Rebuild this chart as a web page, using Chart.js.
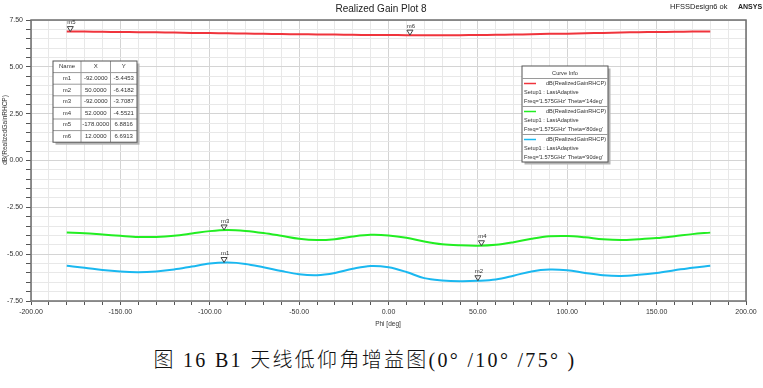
<!DOCTYPE html>
<html>
<head>
<meta charset="utf-8">
<script src="https://cdn.jsdelivr.net/npm/chart.js@4/dist/chart.umd.min.js"></script>
<style>
  html, body { margin: 0; padding: 0; background: #fff; }
  #wrap { position: relative; width: 763px; height: 388px; }
  #caption {
    position: absolute; left: 0; top: 349px; width: 730px; text-align: center;
    font-family: "Liberation Serif", "Noto Sans CJK SC", serif; font-size: 20px; font-weight: 300;
    line-height: 22px; letter-spacing: 2.3px; color: #111;
  }
</style>
</head>
<body>
<div id="wrap">
  <canvas id="chart" width="763" height="335"></canvas>
  <div id="caption">图 16 B1 天线低仰角增益图(0° /10° /75° )</div>
</div>
<script>
// угол Phi, град
const phi = [-180, -170, -160, -150, -140, -130, -120, -110, -100, -90, -80, -70, -60, -50, -40, -30, -20, -10,
  0, 10, 20, 30, 40, 50, 60, 70, 80, 90, 100, 110, 120, 130, 140, 150, 160, 170, 180];

// dB(RealizedGainRHCP), Theta = 14 / 80 / 90 deg
const gain14 = [6.88, 6.88, 6.87, 6.86, 6.85, 6.84, 6.83, 6.81, 6.80, 6.79, 6.78, 6.76, 6.75, 6.74, 6.73, 6.72, 6.71, 6.70,
  6.70, 6.69, 6.69, 6.69, 6.69, 6.70, 6.71, 6.72, 6.74, 6.76, 6.77, 6.79, 6.81, 6.83, 6.85, 6.86, 6.87, 6.88, 6.89];
const gain80 = [-3.85, -3.88, -3.95, -4.02, -4.08, -4.08, -4.02, -3.90, -3.77, -3.71, -3.76, -3.87, -4.02, -4.18, -4.25, -4.20, -4.06, -3.97,
  -4.00, -4.12, -4.32, -4.47, -4.53, -4.55, -4.50, -4.36, -4.18, -4.05, -4.03, -4.10, -4.20, -4.24, -4.20, -4.14, -4.04, -3.93, -3.85];
const gain90 = [-5.62, -5.72, -5.85, -5.93, -5.96, -5.92, -5.82, -5.66, -5.50, -5.45, -5.52, -5.70, -5.90, -6.07, -6.12, -6.00, -5.78, -5.63,
  -5.70, -5.95, -6.28, -6.40, -6.44, -6.42, -6.35, -6.15, -5.92, -5.82, -5.86, -6.00, -6.12, -6.16, -6.10, -6.00, -5.86, -5.72, -5.62];

const thetaLabels = ['14deg', '80deg', '90deg'];
const curveColors = ['#f0343c', '#22ee22', '#1ab8f0'];

// маркеры
const markerNames = ['m1', 'm2', 'm3', 'm4', 'm5', 'm6'];
const markerPhi = [-92, 50, -92, 52, -178, 12];
const markerGain = [-5.4453, -6.4182, -3.7087, -4.5521, 6.8816, 6.6913];

const FONT = '"Liberation Sans", Arial, sans-serif';

const toPoints = (ys) => phi.map((p, i) => ({ x: p, y: ys[i] }));

// рамка, подписи, маркеры, таблица и легенда
const overlay = {
  id: 'overlay',
  afterDraw(chart) {
    const { ctx, chartArea: { left, top, right, bottom }, scales: { x, y } } = chart;
    ctx.save();

    // рамка поля
    ctx.strokeStyle = '#6e6e6e';
    ctx.lineWidth = 1.5;
    ctx.strokeRect(left, top, right - left, bottom - top);

    // заголовки
    ctx.fillStyle = '#222';
    ctx.textBaseline = 'middle';
    ctx.textAlign = 'center';
    ctx.font = `10px ${FONT}`;
    ctx.fillText('Realized Gain Plot 8', 381, 9);
    ctx.textAlign = 'left';
    ctx.font = `7.5px ${FONT}`;
    ctx.fillText('HFSSDesign6 ok', 670, 7);
    ctx.font = `bold 7px ${FONT}`;
    ctx.fillText('ANSYS', 738, 7);

    ctx.font = `6.5px ${FONT}`;
    ctx.textAlign = 'center';
    ctx.fillStyle = '#333';
    ctx.fillText('Phi [deg]', 388, 324);
    ctx.save();
    ctx.translate(5, 130);
    ctx.rotate(-Math.PI / 2);
    ctx.fillText('dB(RealizedGainRHCP)', 0, 0);
    ctx.restore();

    // маркеры на кривых
    ctx.strokeStyle = '#444';
    ctx.lineWidth = 1;
    ctx.font = `6px ${FONT}`;
    markerNames.forEach((name, i) => {
      const px = x.getPixelForValue(markerPhi[i]);
      const py = y.getPixelForValue(markerGain[i]);
      ctx.beginPath();
      ctx.moveTo(px, py);
      ctx.lineTo(px - 3, py - 5);
      ctx.lineTo(px + 3, py - 5);
      ctx.closePath();
      ctx.stroke();
      ctx.fillStyle = '#333';
      ctx.fillText(name, px + 1, py - 9);
    });

    // таблица маркеров
    const tx = 53; const ty = 61;
    const colW = [28, 29.5, 26.5];
    const rowH = 11.6;
    const tw = colW[0] + colW[1] + colW[2];
    const th = rowH * (markerNames.length + 1);
    ctx.fillStyle = '#b4b4b4';
    ctx.fillRect(tx + 2.5, ty + 2.5, tw, th);
    ctx.fillStyle = '#fff';
    ctx.fillRect(tx, ty, tw, th);
    ctx.strokeStyle = '#9a9a9a';
    ctx.lineWidth = 1;
    for (let r = 1; r <= markerNames.length; r += 1) {
      ctx.beginPath();
      ctx.moveTo(tx, ty + r * rowH);
      ctx.lineTo(tx + tw, ty + r * rowH);
      ctx.stroke();
    }
    [colW[0], colW[0] + colW[1]].forEach((cx) => {
      ctx.beginPath();
      ctx.moveTo(tx + cx, ty);
      ctx.lineTo(tx + cx, ty + th);
      ctx.stroke();
    });
    ctx.strokeStyle = '#555';
    ctx.strokeRect(tx, ty, tw, th);
    ctx.fillStyle = '#333';
    ctx.font = `6px ${FONT}`;
    const cellX = [tx + colW[0] / 2, tx + colW[0] + colW[1] / 2, tx + colW[0] + colW[1] + colW[2] / 2];
    ['Name', 'X', 'Y'].forEach((h, c) => ctx.fillText(h, cellX[c], ty + rowH / 2));
    markerNames.forEach((name, i) => {
      const cy = ty + rowH * (i + 1.5);
      ctx.fillText(name, cellX[0], cy);
      ctx.fillText(markerPhi[i].toFixed(4), cellX[1], cy);
      ctx.fillText(markerGain[i].toFixed(4), cellX[2], cy);
    });

    // легенда Curve Info
    const lx = 522; const ly = 66; const lw = 86; const lh = 96;
    ctx.fillStyle = '#b4b4b4';
    ctx.fillRect(lx + 2.5, ly + 2.5, lw, lh);
    ctx.fillStyle = '#fff';
    ctx.fillRect(lx, ly, lw, lh);
    ctx.strokeStyle = '#555';
    ctx.strokeRect(lx, ly, lw, lh);
    ctx.fillStyle = '#333';
    ctx.textAlign = 'center';
    ctx.font = `5.6px ${FONT}`;
    ctx.fillText('Curve Info', lx + lw / 2, ly + 7.5);
    ctx.strokeStyle = '#9a9a9a';
    const blockTop = ly + 12.5;
    const blockH = 28;
    thetaLabels.forEach((theta, i) => {
      const by = blockTop + i * blockH;
      ctx.beginPath();
      ctx.moveTo(lx, by);
      ctx.lineTo(lx + lw, by);
      ctx.stroke();
      ctx.strokeStyle = curveColors[i];
      ctx.lineWidth = 1.5;
      ctx.beginPath();
      ctx.moveTo(lx + 2, by + 5);
      ctx.lineTo(lx + 14, by + 5);
      ctx.stroke();
      ctx.strokeStyle = '#9a9a9a';
      ctx.lineWidth = 1;
      ctx.fillStyle = '#333';
      ctx.textAlign = 'right';
      ctx.fillText('dB(RealizedGainRHCP)', lx + lw - 2, by + 5);
      ctx.textAlign = 'left';
      ctx.fillText('Setup1 : LastAdaptive', lx + 2, by + 14);
      ctx.fillText(`Freq='1.575GHz' Theta='${theta}'`, lx + 2, by + 23);
    });

    ctx.restore();
  },
};

const chart = new Chart(document.getElementById('chart'), {
  type: 'line',
  data: {
    datasets: [
      { data: toPoints(gain14), borderColor: curveColors[0] },
      { data: toPoints(gain80), borderColor: curveColors[1] },
      { data: toPoints(gain90), borderColor: curveColors[2] },
    ],
  },
  options: {
    responsive: false,
    animation: false,
    layout: { padding: { top: 20, right: 17, left: 0, bottom: 0 } },
    elements: {
      point: { radius: 0 },
      line: { borderWidth: 2, tension: 0.35, fill: false },
    },
    plugins: { legend: { display: false }, tooltip: { enabled: false } },
    scales: {
      x: {
        type: 'linear',
        min: -200,
        max: 200,
        afterFit(scale) { scale.height = 34; scale.paddingLeft = 0; scale.paddingRight = 0; },
        ticks: {
          stepSize: 10,
          autoSkip: false,
          maxRotation: 0,
          padding: 3,
          color: '#333',
          font: { family: FONT, size: 7 },
          callback: (v) => (v % 50 === 0 ? v.toFixed(2) : ''),
        },
        grid: {
          color: (c) => (c.tick && c.tick.value % 50 === 0 ? '#d4d4d4' : '#e8e8e8'),
          tickColor: '#555',
          tickLength: 4,
        },
        border: { display: false },
      },
      y: {
        min: -7.5,
        max: 7.5,
        afterFit(scale) { scale.width = 31; scale.paddingTop = 0; scale.paddingBottom = 0; },
        ticks: {
          stepSize: 0.5,
          autoSkip: false,
          padding: 3,
          color: '#333',
          font: { family: FONT, size: 7 },
          callback: (v) => (v % 2.5 === 0 ? v.toFixed(2) : ''),
        },
        grid: {
          color: (c) => (c.tick && c.tick.value % 2.5 === 0 ? '#d4d4d4' : '#e8e8e8'),
          tickColor: '#555',
          tickLength: 5,
        },
        border: { display: false },
      },
    },
  },
  plugins: [overlay],
});
</script>
</body>
</html>
